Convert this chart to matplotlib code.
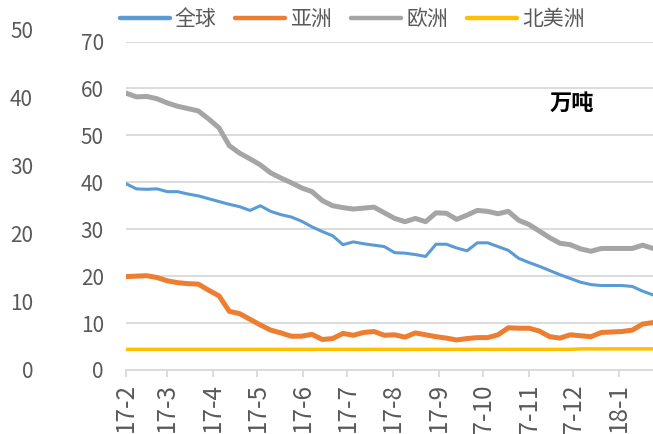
import matplotlib
matplotlib.use("Agg")
import matplotlib.pyplot as plt
import pandas as pd

plt.rcParams['font.family'] = ['Noto Sans CJK SC', 'DejaVu Sans']

# 周度数据（万吨）
dates = pd.date_range('2017-02-03', periods=52, freq='7D')

global_stock = [39.7, 38.6, 38.5, 38.6, 38.0, 38.0, 37.5, 37.1, 36.5, 35.9,
                35.3, 34.8, 34.0, 35.0, 33.8, 33.1, 32.6, 31.7, 30.5, 29.5,
                28.6, 26.7, 27.3, 26.9, 26.6, 26.3, 25.0, 24.9, 24.6, 24.2,
                26.8, 26.8, 26.0, 25.4, 27.1, 27.1, 26.3, 25.5, 23.8, 22.9,
                22.1, 21.2, 20.3, 19.5, 18.7, 18.2, 18.0, 18.0, 18.0, 17.8,
                16.8, 16.0]
asia_stock = [19.9, 20.0, 20.1, 19.7, 19.0, 18.6, 18.4, 18.3, 17.0, 15.8,
              12.5, 12.0, 10.8, 9.6, 8.5, 7.9, 7.2, 7.2, 7.6, 6.5,
              6.7, 7.8, 7.4, 8.0, 8.2, 7.4, 7.5, 7.0, 7.9, 7.5,
              7.1, 6.8, 6.4, 6.7, 6.9, 6.9, 7.5, 9.0, 8.9, 8.9,
              8.3, 7.1, 6.8, 7.5, 7.3, 7.1, 8.0, 8.1, 8.2, 8.5,
              9.8, 10.1]
europe_stock = [59.0, 58.2, 58.3, 57.8, 56.9, 56.2, 55.7, 55.2, 53.5, 51.6,
                47.8, 46.2, 45.0, 43.7, 42.0, 40.9, 39.9, 38.8, 38.0, 36.1,
                35.0, 34.6, 34.3, 34.5, 34.7, 33.5, 32.3, 31.6, 32.3, 31.6,
                33.5, 33.4, 32.1, 33.0, 34.0, 33.8, 33.3, 33.8, 31.9, 31.0,
                29.6, 28.2, 27.0, 26.7, 25.8, 25.3, 25.9, 25.9, 25.9, 25.9,
                26.6, 25.9]
na_stock = [4.4] * 44 + [4.5] * 8

series = [
    ('全球', global_stock, '#5B9BD5', 2.2),
    ('亚洲', asia_stock, '#ED7D31', 3.6),
    ('欧洲', europe_stock, '#A5A5A5', 3.6),
    ('北美洲', na_stock, '#FFC000', 2.5),
]

tick_dates = pd.date_range('2017-02-03', periods=12, freq=pd.DateOffset(months=1))
tick_labels = ['17-2', '17-3', '17-4', '17-5', '17-6', '17-7',
               '17-8', '17-9', '17-10', '17-11', '17-12', '18-1']
left_ticks = [0, 10, 20, 30, 40, 50, 60, 70]
outer_ticks = [0, 10, 20, 30, 40, 50]

text_color = '#595959'
grid_color = '#D9D9D9'
W, H = 653, 434

fig = plt.figure(figsize=(W / 100, H / 100), dpi=100)
ax = fig.add_axes([126 / W, 1 - 370 / H, 527 / W, (370 - 41.5) / H])

for name, vals, color, lw in series:
    ax.plot(dates, vals, color=color, linewidth=lw, label=name,
            solid_joinstyle='round', solid_capstyle='round')

ax.set_xlim(dates[0], dates[-1])
ax.set_ylim(0, 70)
ax.set_yticks(left_ticks)
ax.set_xticks(tick_dates)
ax.set_xticklabels(tick_labels, rotation=90)
ax.grid(True, axis='y', color=grid_color, linewidth=1.3)
ax.set_axisbelow(True)
for side in ['top', 'right', 'left']:
    ax.spines[side].set_visible(False)
ax.spines['bottom'].set_color(grid_color)
ax.spines['bottom'].set_linewidth(1.3)
ax.tick_params(axis='y', length=0, pad=16, labelsize=15, labelcolor=text_color)
ax.tick_params(axis='x', length=5, width=1.3, color=grid_color, pad=4,
               labelsize=17.5, labelcolor=text_color)

# 外侧坐标轴
ax2 = fig.add_axes([40 / W, 1 - 369 / H, 10 / W, (369 - 29) / H])
ax2.set_ylim(0, 50)
ax2.set_yticks(outer_ticks)
ax2.set_xticks([])
ax2.patch.set_visible(False)
for side in ax2.spines:
    ax2.spines[side].set_visible(False)
ax2.tick_params(axis='y', length=0, pad=5, labelsize=15, labelcolor=text_color)

ax.text(572 / W, 1 - 103 / H, '万吨', transform=fig.transFigure,
        ha='center', va='center', fontsize=16, fontweight='bold', color='black')

leg = fig.legend(loc='center', bbox_to_anchor=(352 / W, 1 - 19 / H), ncol=4,
                 frameon=False, fontsize=15, handlelength=2.4, handletextpad=0.25,
                 columnspacing=0.9, labelcolor=text_color)
for line in leg.get_lines():
    line.set_linewidth(3.2)

fig.savefig('out.png', dpi=100)
